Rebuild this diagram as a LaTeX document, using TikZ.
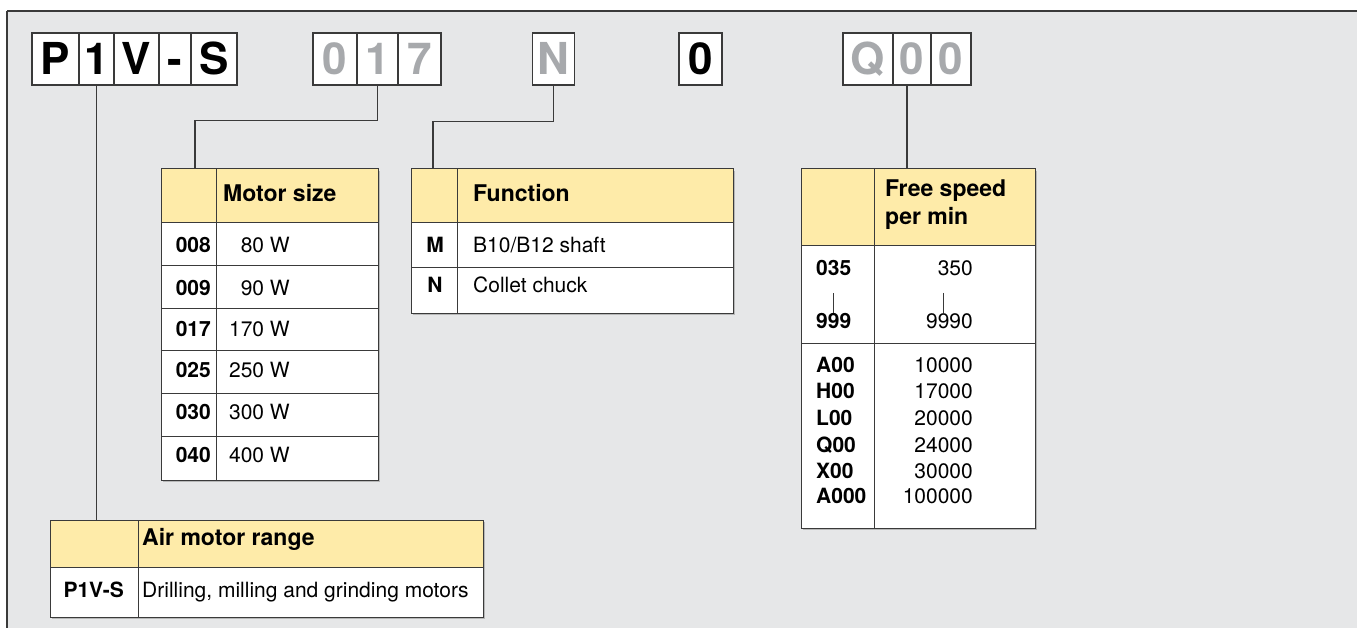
\documentclass[tikz,border=0pt]{standalone}
\usepackage{fontspec}
\setmainfont{TeX Gyre Heros}
\usetikzlibrary{shadows}
\definecolor{bg}{HTML}{E6E7E8}
\definecolor{hdr}{HTML}{FEEBA9}
\definecolor{lgray}{HTML}{A7A9AC}
\definecolor{ln}{HTML}{3A3A3A}
\tikzset{
 codebox/.style={draw=ln, line width=1.2pt, fill=white, inner sep=0pt, minimum height=52pt,
   text height=32pt, text depth=0pt, font=\fontsize{44}{44}\bfseries\selectfont},
 grey/.style={text=lgray},
 tbl/.style={draw=ln, line width=1pt, fill=white, inner sep=0pt, anchor=north west,
   drop shadow={shadow xshift=1.5pt, shadow yshift=-1.5pt, opacity=0.3, fill=black!70}},
 conn/.style={draw=ln, line width=1.2pt},
 rulel/.style={draw=ln, line width=0.9pt},
 hd/.style={font=\fontsize{23}{28}\bfseries\selectfont, inner sep=0pt, anchor=base west},
 cd/.style={font=\fontsize{21}{25}\bfseries\selectfont, inner sep=0pt},
 vl/.style={font=\fontsize{21}{25}\selectfont, inner sep=0pt},
}
\begin{document}
\begin{tikzpicture}[x=1pt,y=-1pt]
\useasboundingbox (0,0) rectangle (1357,628);
\fill[bg] (7,11) rectangle (1357,628);
\draw[ln, line width=1.8pt] (1357,11) -- (7,11);
\draw[ln, line width=1.3pt] (7,11) -- (7,628);

% code boxes
\node[codebox, minimum width=47pt] (p1) at (55.5,59) {P};
\node[codebox, minimum width=35pt] (p2) at (96.5,59) {1};
\node[codebox, minimum width=45pt] (p3) at (136.5,59) {V};
\node[codebox, minimum width=32pt] (p4) at (175,59) {-};
\node[codebox, minimum width=46pt] (p5) at (214,59) {S};
\node[codebox, grey, minimum width=44pt] (s1) at (335,59) {0};
\node[codebox, grey, minimum width=41pt] (s2) at (377.5,59) {1};
\node[codebox, grey, minimum width=43pt] (s3) at (419.5,59) {7};
\node[codebox, grey, minimum width=42pt] (n) at (553.5,59) {N};
\node[codebox, minimum width=43pt] (z) at (700.5,59) {0};
\node[codebox, grey, minimum width=50pt] (q1) at (868,59) {Q};
\node[codebox, grey, minimum width=38pt] (q2) at (912,59) {0};
\node[codebox, grey, minimum width=40pt] (q3) at (951,59) {0};

% Motor size table
\node[tbl, minimum width=217pt, minimum height=311pt] (motor) at (161,169) {};
\fill[hdr] (161,169) rectangle (378,222);
\foreach \yy in {222,265,308,350,393,436} \draw[rulel] (161,\yy) -- (378,\yy);
\draw[rulel] (216,169) -- (216,480);
\draw[ln, line width=1pt] (161,169) rectangle (378,480);
\node[hd] (mh) at (223,202) {Motor size};
\foreach \c/\v/\yy [count=\i] in {008/80 W/253, 009/90 W/295, 017/170 W/336, 025/250 W/377, 030/300 W/419, 040/400 W/462}{
  \node[cd, anchor=base east] (mc\i) at (211,\yy) {\c};
  \node[vl, anchor=base east] (mv\i) at (290,\yy) {\v};
}

% Function table
\node[tbl, minimum width=322pt, minimum height=144pt] (func) at (411,169) {};
\fill[hdr] (411,169) rectangle (733,222);
\foreach \yy in {222,267} \draw[rulel] (411,\yy) -- (733,\yy);
\draw[rulel] (457,169) -- (457,313);
\draw[ln, line width=1pt] (411,169) rectangle (733,313);
\node[hd] (fh) at (473,202) {Function};
\node[cd, anchor=base] (fc1) at (435,253) {M};
\node[vl, anchor=base west] (fv1) at (473,253) {B10/B12 shaft};
\node[cd, anchor=base] (fc2) at (435,293) {N};
\node[vl, anchor=base west] (fv2) at (473,293) {Collet chuck};

% Free speed table
\node[tbl, minimum width=234pt, minimum height=359pt] (speed) at (801,169) {};
\fill[hdr] (801,169) rectangle (1035,245);
\foreach \yy in {245,343} \draw[rulel] (801,\yy) -- (1035,\yy);
\draw[rulel] (874,169) -- (874,528);
\draw[ln, line width=1pt] (801,169) rectangle (1035,528);
\node[hd] (sh1) at (885,197) {Free speed};
\node[hd] (sh2) at (885,225) {per min};
\node[cd, anchor=base west] (sc035) at (816,276) {035};
\node[vl, anchor=base east] (sv350) at (973,276) {350};
\node[cd, anchor=base west] (sc999) at (816,328) {999};
\node[vl, anchor=base east] (sv9990) at (973,328) {9990};
\draw[ln, line width=0.9pt, shorten <=17pt] (sc035.south) -- (sc035.south |- sc999.north);
\draw[ln, line width=0.9pt] ([xshift=-6pt]sv9990.north |- 0,293) -- ([xshift=-6pt]sv9990.north);
\foreach \c/\v/\yy [count=\i] in {A00/10000/372, H00/17000/398, L00/20000/425, Q00/24000/452, X00/30000/478, A000/100000/503}{
  \node[cd, anchor=base west] (sc\i) at (816,\yy) {\c};
  \node[vl, anchor=base east] (sv\i) at (973,\yy) {\v};
}

% Air motor range table
\node[tbl, minimum width=433pt, minimum height=97pt] (air) at (50,520) {};
\fill[hdr] (50,520) rectangle (483,567);
\draw[rulel] (50,567) -- (483,567);
\draw[rulel] (138,520) -- (138,617);
\draw[ln, line width=1pt] (50,520) rectangle (483,617);
\node[hd] (ah) at (142,545) {Air motor range};
\node[cd, anchor=base east] (ac) at (124,597) {P1V-S};
\node[vl, anchor=base west] (av) at (142,597) {Drilling, milling and grinding motors};

% connectors
\draw[conn] (p2.south) -- (p2.south |- air.north);
\draw[conn] (s2.south) -- ++(0,35) -| ([xshift=34pt]motor.north west);
\draw[conn] (n.south) -- ++(0,36) -| ([xshift=22pt]func.north west);
\draw[conn] ([xshift=-5pt]q2.south) -- ([xshift=-5pt]q2.south |- speed.north);
\end{tikzpicture}
\end{document}
